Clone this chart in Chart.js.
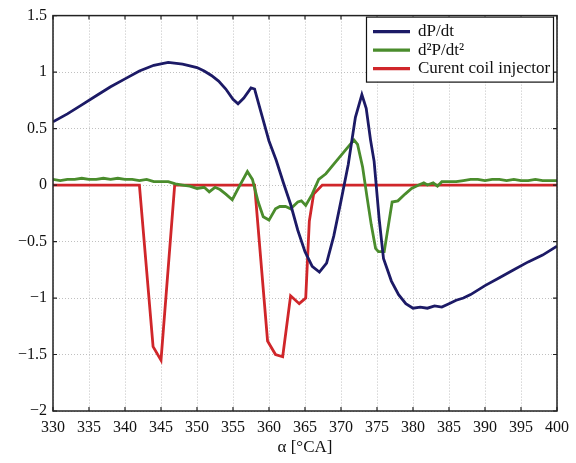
<!DOCTYPE html>
<html>
<head>
<meta charset="utf-8">
<script src="https://cdn.jsdelivr.net/npm/chart.js@4"></script>
<style>
  html, body { margin: 0; padding: 0; background: #fff; }
  #wrap { width: 576px; height: 463px; }
</style>
</head>
<body>
<div id="wrap"><canvas id="chart"></canvas></div>
<script>
// crank angle [°CA] and values

const dpAngle = [330, 332, 334, 336, 338, 340, 342, 344, 346, 348, 350, 351, 352, 353, 354, 355, 355.7, 356.5, 357.5, 358,
  359, 360, 361, 362, 363, 364, 365, 366, 367, 368, 369, 370, 371, 372, 372.9, 373.5, 374.1, 374.6, 375.3, 375.9,
  377, 378, 379, 380, 381, 382, 383, 384, 385, 386, 387, 388, 390, 392, 394, 396, 398, 400];
const dpValue = [0.56, 0.63, 0.71, 0.79, 0.87, 0.94, 1.01, 1.06, 1.085, 1.07, 1.04, 1.01, 0.97, 0.92, 0.85, 0.76, 0.72, 0.77, 0.86, 0.85,
  0.62, 0.39, 0.22, 0.02, -0.17, -0.40, -0.59, -0.72, -0.77, -0.69, -0.45, -0.14, 0.18, 0.60, 0.80, 0.68, 0.40, 0.21, -0.30, -0.65,
  -0.85, -0.97, -1.05, -1.09, -1.08, -1.09, -1.07, -1.08, -1.05, -1.02, -1.00, -0.97, -0.89, -0.82, -0.75, -0.68, -0.62, -0.54];

const d2pAngle = [330, 331, 332, 333, 334, 335, 336, 337, 338, 339, 340, 341, 342, 343, 344, 345, 346, 347, 348, 349,
  350, 351, 351.7, 352.5, 353.2, 354, 354.9, 355.8, 357, 357.7, 358.5, 359.2, 360, 360.9, 361.5, 362.3, 363, 364, 364.5, 365.1,
  366, 366.9, 367.9, 369.2, 370.5, 371.8, 372.3, 373, 373.6, 374.2, 374.8, 375.2, 376, 376.6, 377.1, 377.9, 378.9, 379.8, 380.8, 381.5,
  382, 382.8, 383.4, 384, 385, 386, 387, 388, 389, 390, 391, 392, 393, 394, 395, 396, 397, 398, 399, 400];
const d2pValue = [0.05, 0.04, 0.05, 0.05, 0.06, 0.05, 0.05, 0.06, 0.05, 0.06, 0.05, 0.05, 0.04, 0.05, 0.03, 0.03, 0.03, 0.01, 0.00, -0.01,
  -0.03, -0.02, -0.06, -0.02, -0.04, -0.08, -0.13, -0.02, 0.12, 0.05, -0.15, -0.28, -0.31, -0.21, -0.19, -0.19, -0.21, -0.15, -0.14, -0.18,
  -0.08, 0.05, 0.10, 0.20, 0.30, 0.40, 0.36, 0.16, -0.10, -0.35, -0.56, -0.59, -0.59, -0.35, -0.15, -0.14, -0.08, -0.03, 0.00, 0.02,
  0.00, 0.02, -0.01, 0.03, 0.03, 0.03, 0.04, 0.05, 0.05, 0.04, 0.05, 0.05, 0.04, 0.05, 0.04, 0.04, 0.05, 0.04, 0.04, 0.04];

const coilAngle = [330, 342, 343.9, 345, 346.9, 358, 359.8, 360.9, 361.9, 363, 364.2, 365.1, 365.6, 366.2, 367.4, 400];
const coilValue = [0, 0, -1.43, -1.55, 0, 0, -1.38, -1.50, -1.52, -0.98, -1.05, -1.00, -0.32, -0.08, 0, 0];

const xTicks = [330, 335, 340, 345, 350, 355, 360, 365, 370, 375, 380, 385, 390, 395, 400];
const yTicks = [-2, -1.5, -1, -0.5, 0, 0.5, 1, 1.5];

const seriesNames = ['dP/dt', 'd\u00b2P/dt\u00b2', 'Curent coil injector'];
const seriesColors = ['#1c1a66', '#4a8c2c', '#d0262a'];

function toPoints(xs, ys) {
    return xs.map((x, i) => ({ x: x, y: ys[i] }));
}

const fontFamily = '"Liberation Serif", "DejaVu Serif", serif';

// frame, inner tick marks and legend box
const framePlugin = {
    id: 'frame',
    afterDraw(chart) {
        const ctx = chart.ctx;
        const a = chart.chartArea;
        const xs = chart.scales.x;
        const ys = chart.scales.y;
        ctx.save();
        ctx.strokeStyle = '#222';
        ctx.lineWidth = 1.5;
        ctx.strokeRect(a.left, a.top, a.right - a.left, a.bottom - a.top);

        ctx.lineWidth = 1.2;
        ctx.beginPath();
        xTicks.forEach(t => {
            const px = xs.getPixelForValue(t);
            ctx.moveTo(px, a.top); ctx.lineTo(px, a.top + 4);
            ctx.moveTo(px, a.bottom); ctx.lineTo(px, a.bottom - 4);
        });
        yTicks.forEach(t => {
            const py = ys.getPixelForValue(t);
            ctx.moveTo(a.left, py); ctx.lineTo(a.left + 4, py);
            ctx.moveTo(a.right, py); ctx.lineTo(a.right - 4, py);
        });
        ctx.stroke();

        // legend
        const bx = a.right - 191, by = a.top + 1, bw = 187, bh = 65;
        ctx.fillStyle = '#fff';
        ctx.fillRect(bx, by, bw, bh);
        ctx.strokeStyle = '#111';
        ctx.lineWidth = 1.2;
        ctx.strokeRect(bx + 0.5, by + 0.5, bw, bh);
        ctx.font = '17px ' + fontFamily;
        ctx.textBaseline = 'middle';
        chart.data.datasets.forEach((ds, i) => {
            const ly = by + 15 + i * 18.5;
            ctx.strokeStyle = ds.borderColor;
            ctx.lineWidth = 3.2;
            ctx.beginPath();
            ctx.moveTo(bx + 7, ly);
            ctx.lineTo(bx + 44, ly);
            ctx.stroke();
            ctx.fillStyle = '#111';
            ctx.fillText(ds.label, bx + 52, ly);
        });
        ctx.restore();
    }
};

const ctx = document.getElementById('chart').getContext('2d');
const chart = new Chart(ctx, {
    type: 'line',
    data: {
        datasets: [
            { label: seriesNames[0], data: toPoints(dpAngle, dpValue), borderColor: seriesColors[0] },
            { label: seriesNames[1], data: toPoints(d2pAngle, d2pValue), borderColor: seriesColors[1] },
            { label: seriesNames[2], data: toPoints(coilAngle, coilValue), borderColor: seriesColors[2] }
        ]
    },
    options: {
        responsive: true,
        maintainAspectRatio: false,
        animation: false,
        layout: { padding: { top: 14, right: 17, left: 0, bottom: 5 } },
        elements: {
            line: { borderWidth: 2.8, tension: 0, fill: false },
            point: { radius: 0 }
        },
        plugins: {
            legend: { display: false },
            tooltip: { enabled: false }
        },
        scales: {
            x: {
                type: 'linear',
                min: 330,
                max: 400,
                afterBuildTicks(scale) { scale.ticks = xTicks.map(v => ({ value: v })); },
                afterFit(scale) { scale.height = 47; },
                grid: { color: '#c0c0c0', lineWidth: 1, drawTicks: false },
                border: { display: false, dash: [1, 2] },
                ticks: { color: '#111', font: { family: fontFamily, size: 16 }, padding: 7, maxRotation: 0 },
                title: { display: true, text: '\u03b1 [\u00b0CA]', color: '#111', font: { family: fontFamily, size: 17 }, padding: { top: 0, bottom: 0 } }
            },
            y: {
                min: -2,
                max: 1.5,
                afterBuildTicks(scale) { scale.ticks = yTicks.map(v => ({ value: v })); },
                afterFit(scale) { scale.width = 53; },
                grid: { color: '#c0c0c0', lineWidth: 1, drawTicks: false },
                border: { display: false, dash: [1, 2] },
                ticks: {
                    color: '#111',
                    font: { family: fontFamily, size: 16 },
                    padding: 6,
                    callback: v => (v < 0 ? '\u2212' + Math.abs(v) : String(v))
                }
            }
        }
    },
    plugins: [framePlugin]
});
</script>
</body>
</html>
